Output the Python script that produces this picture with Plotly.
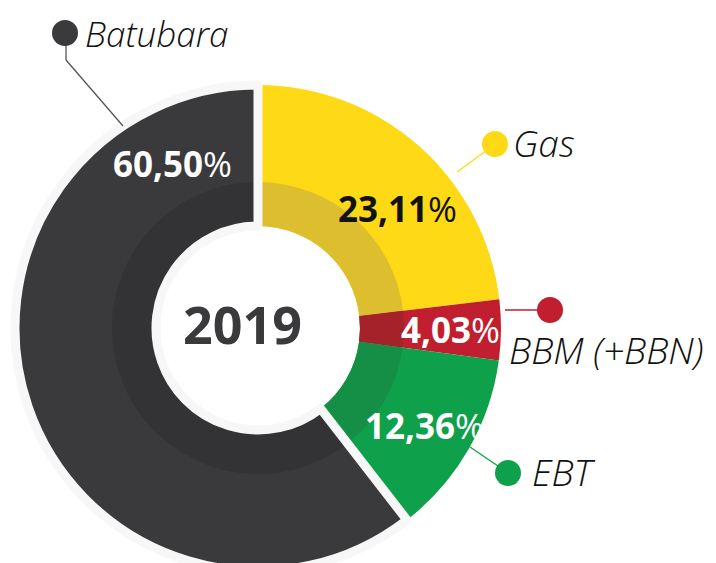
import plotly.graph_objects as go

W, H = 716, 563
OFF = 8  # default page body margin in the browser

# ---- data ----
categories = ["Gas", "BBM (+BBN)", "EBT", "Batubara"]
shares = [23.11, 4.03, 12.36, 60.50]
share_labels = ["23,11", "4,03", "12,36", "60,50"]
year_label = "2019"

outer_colors = ["#fed916", "#c11f2f", "#0ea04a", "#3a3a3c"]
inner_colors = ["#dcbe2f", "#a6222b", "#168f46", "#333335"]
text_colors = ["#111111", "#ffffff", "#ffffff", "#ffffff"]

# ---- geometry (window pixels) ----
CX, CY = 258, 328
R_OUT, R_MID, R_HOLE = 243, 146, 102


def px(x, y):
    return (x - OFF) / W, 1 - (y - OFF) / H


def dom(r):
    cx, cy = CX - OFF, CY - OFF
    return dict(
        x=[max(0, (cx - r) / W), min(1, (cx + r) / W)],
        y=[max(0, 1 - (cy + r) / H), min(1, 1 - (cy - r) / H)],
    )


fig = go.Figure()

common = dict(labels=categories, values=shares, sort=False, direction="clockwise",
              rotation=0, textinfo="none", hoverinfo="skip", showlegend=False)

fig.add_trace(go.Pie(**common, hole=R_HOLE / R_OUT, domain=dom(R_OUT),
                     marker=dict(colors=outer_colors, line=dict(width=0))))
fig.add_trace(go.Pie(**common, hole=R_HOLE / R_MID, domain=dom(R_MID),
                     marker=dict(colors=inner_colors, line=dict(width=0))))
fig.add_trace(go.Pie(**common, hole=R_HOLE / R_OUT, domain=dom(R_OUT),
                     marker=dict(colors=["rgba(0,0,0,0)"] * 4,
                                 line=dict(width=[0, 0, 0, 9], color="#f7f7f7"))))

annotations = []
shapes = []

# percentage labels inside slices
pct_pos = [(397, 209), (450, 329), (425, 425), (172, 163)]
for lab, (x, y), c in zip(share_labels, pct_pos, text_colors):
    xx, yy = px(x, y)
    annotations.append(dict(x=xx, y=yy, xref="paper", yref="paper", showarrow=False,
                            xanchor="center", yanchor="middle",
                            text=f"<b>{lab}</b>%",
                            font=dict(family="Open Sans", size=35, color=c)))

# center year
xx, yy = px(243, 323)
annotations.append(dict(x=xx, y=yy, xref="paper", yref="paper", showarrow=False,
                        xanchor="center", yanchor="middle", text=f"<b>{year_label}</b>",
                        font=dict(family="Open Sans", size=52, color="#3a3a3c")))

# category labels with dots and leader lines
label_pos = [(512, 142), (508, 349), (531, 471), (84, 33)]
label_sizes = [37, 37, 37, 35]
dot_pos = [(495, 144), (550, 310), (508, 473), (65, 33)]
dot_r = 13
leaders = [
    [(457, 172), (487, 150)],
    [(505, 310), (540, 310)],
    [(470, 447), (498, 466)],
    [(66, 44), (66, 60), (123, 126)],
]
leader_colors = ["#fed916", "#c11f2f", "#0ea04a", "#555555"]

for name, (lx, ly), fs, (dx, dy), col, pts, lc in zip(categories, label_pos, label_sizes,
                                                       dot_pos, outer_colors, leaders,
                                                       leader_colors):
    for (x0, y0), (x1, y1) in zip(pts[:-1], pts[1:]):
        a0, b0 = px(x0, y0)
        a1, b1 = px(x1, y1)
        shapes.append(dict(type="line", xref="paper", yref="paper", x0=a0, y0=b0,
                           x1=a1, y1=b1, line=dict(color=lc, width=1.3)))
    a0, b0 = px(dx - dot_r, dy + dot_r)
    a1, b1 = px(dx + dot_r, dy - dot_r)
    shapes.append(dict(type="circle", xref="paper", yref="paper", x0=a0, y0=b0,
                       x1=a1, y1=b1, fillcolor=col, line=dict(width=0)))
    xx, yy = px(lx, ly)
    annotations.append(dict(x=xx, y=yy, xref="paper", yref="paper", showarrow=False,
                            xanchor="left", yanchor="middle", text=name, borderpad=0,
                            font=dict(family="Open Sans", size=fs, color="#111111",
                                      style="italic", weight=300)))

fig.update_layout(width=W, height=H, margin=dict(l=0, r=0, t=0, b=0),
                  paper_bgcolor="white", plot_bgcolor="white",
                  annotations=annotations, shapes=shapes, showlegend=False)

fig.write_html("out.html")
